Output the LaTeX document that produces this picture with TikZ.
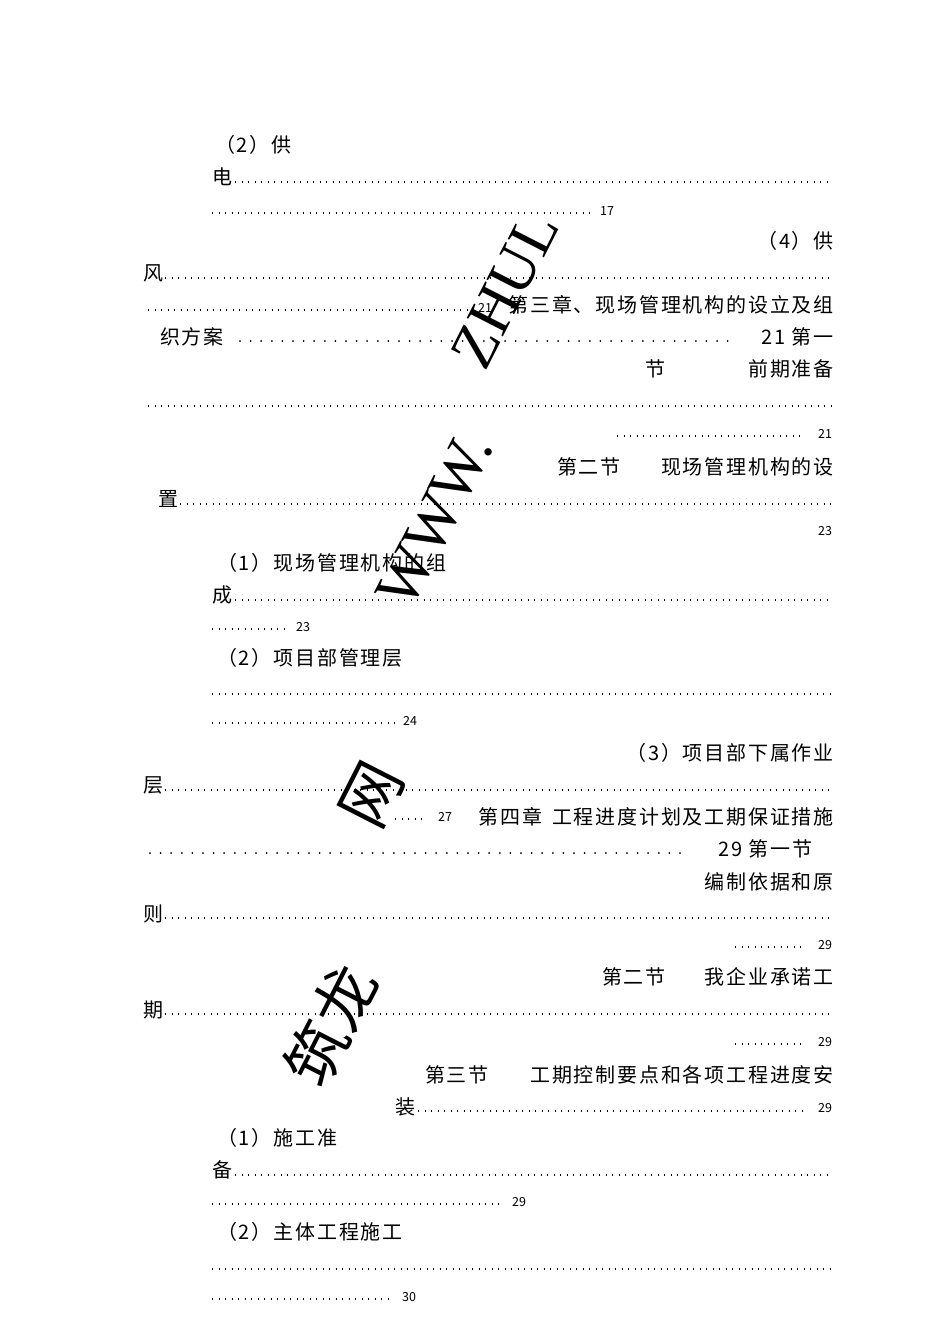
\documentclass[tikz,border=0pt]{standalone}
\usepackage{fontspec}
\setmainfont[LetterSpace=9]{Noto Sans CJK SC}
\newfontfamily\numf{Noto Sans CJK SC}
\newfontfamily\wm{Liberation Serif}
\newfontfamily\wmc{Noto Sans CJK SC}
\begin{document}
\begin{tikzpicture}[x=1pt,y=-1pt,
  t/.style={inner sep=0pt,anchor=west,font=\fontsize{20}{20}\selectfont},
  tr/.style={t,anchor=east},
  n/.style={inner sep=0pt,anchor=west,font=\fontsize{12.5}{12}\numf},
  dl/.style={line width=1.1pt,dash pattern=on 1.1pt off 5.4pt},
  bd/.style={line width=2pt,line cap=round,dash pattern=on 0pt off 10.6pt},
  wmk/.style={inner sep=0pt,font=\fontsize{62}{62}\selectfont}]
\useasboundingbox (0,0) rectangle (950,1344);
\fill[white] (0,0) rectangle (950,1344);
\node[t] at (215,145) {（2）供};
\node[t] at (212,177) {电}; \draw[dl] (235,182)--(832,182);
\draw[dl] (212,213)--(590,213); \node[n] at (600,211) {17};
\node[tr] at (834,241) {（4）供};
\node[t] at (143,273) {风}; \draw[dl] (165,278)--(832,278);
\draw[dl] (148,310)--(470,310); \node[n] at (478,308) {21};
\node[tr] at (834,305) {第三章、现场管理机构的设立及组};
\node[t] at (160,337) {织方案}; \draw[bd] (240,341)--(735,341); \node[tr] at (834,337) {21 第一};
\node[t] at (645,369) {节}; \node[tr] at (834,369) {前期准备};
\draw[dl] (148,406)--(832,406);
\draw[dl] (617,436)--(805,436); \node[n] at (818,434) {21};
\node[t] at (557,467) {第二节}; \node[tr] at (834,467) {现场管理机构的设};
\node[t] at (158,499) {置}; \draw[dl] (180,504)--(832,504);
\node[n] at (818,531) {23};
\node[t] at (217,563) {（1）现场管理机构的组};
\node[t] at (212,595) {成}; \draw[dl] (235,600)--(832,600);
\draw[dl] (212,629)--(285,629); \node[n] at (296,627) {23};
\node[t] at (217,658) {（2）项目部管理层};
\draw[dl] (212,694)--(835,694);
\draw[dl] (212,723)--(395,723); \node[n] at (403,721) {24};
\node[tr] at (834,753) {（3）项目部下属作业};
\node[t] at (143,785) {层}; \draw[dl] (165,790)--(832,790);
\draw[dl] (395,819)--(425,819); \node[n] at (438,817) {27};
\node[tr] at (834,817) {第四章\hspace{0.5em}工程进度计划及工期保证措施};
\draw[bd] (150,853)--(690,853); \node[t] at (718,849) {29 第一节};
\node[tr] at (834,882) {编制依据和原};
\node[t] at (143,914) {则}; \draw[dl] (165,918)--(832,918);
\draw[dl] (735,947)--(805,947); \node[n] at (818,945) {29};
\node[t] at (602,977) {第二节}; \node[tr] at (834,977) {我企业承诺工};
\node[t] at (143,1010) {期}; \draw[dl] (165,1014)--(832,1014);
\draw[dl] (735,1044)--(805,1044); \node[n] at (818,1042) {29};
\node[t] at (425,1075) {第三节}; \node[tr] at (834,1075) {工期控制要点和各项工程进度安};
\node[t] at (395,1107) {装}; \draw[dl] (418,1111)--(805,1111); \node[n] at (818,1108) {29};
\node[t] at (217,1138) {（1）施工准};
\node[t] at (212,1170) {备}; \draw[dl] (235,1175)--(832,1175);
\draw[dl] (212,1204)--(500,1204); \node[n] at (512,1202) {29};
\node[t] at (217,1232) {（2）主体工程施工};
\draw[dl] (212,1269)--(835,1269);
\draw[dl] (212,1299)--(390,1299); \node[n] at (402,1297) {30};
% watermark
\node[wmk,rotate=63] at (505,290) {\wm ZHUL};
\node[wmk,rotate=63] at (435,520) {\wm WWW.};
\node[wmk,rotate=63] at (372,795) {\wmc 网};
\node[wmk,rotate=63] at (330,1025) {\wmc 筑龙};
\end{tikzpicture}
\end{document}
